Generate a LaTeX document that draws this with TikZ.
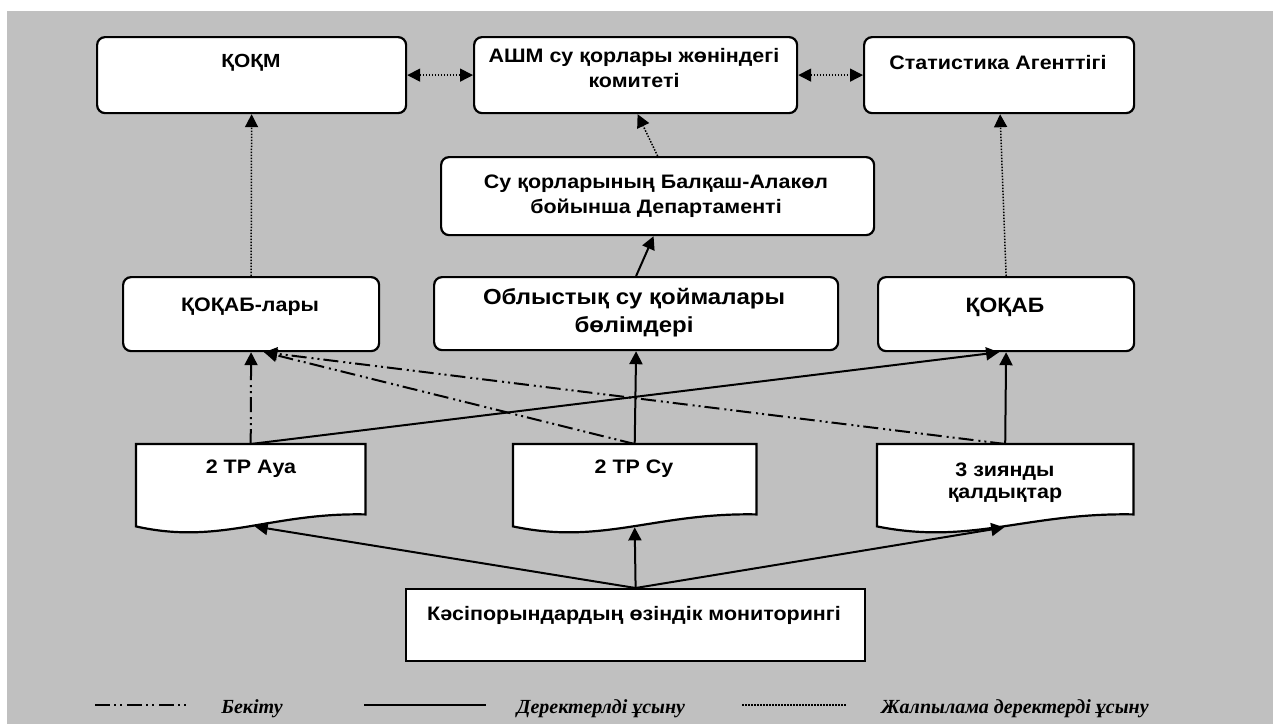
\documentclass[tikz,border=0pt]{standalone}
\usepackage{fontspec}
\setmainfont{Liberation Sans}[FakeStretch=1.1]
\newfontfamily\legfont{Liberation Serif}
\usetikzlibrary{arrows.meta,calc}
\definecolor{bggray}{HTML}{C0C0C0}
\tikzset{
  box/.style={draw, line width=2.2pt, fill=white, anchor=north west, inner sep=0pt},
  rbox/.style={box, rounded corners=8pt},
  ghost/.style={anchor=north west, inner sep=0pt},
  lbl/.style={font=\bfseries\fontsize{19.5}{25}\selectfont, align=center, inner sep=0pt, anchor=base},
  leg/.style={font=\legfont\bfseries\itshape\fontsize{20}{24}\selectfont, inner sep=0pt, anchor=base},
  tip/.style={-{Triangle[length=13pt,width=13pt]}},
  dtip/.style={{Triangle[length=13pt,width=13pt]}-{Triangle[length=13pt,width=13pt]}},
  solidc/.style={line width=2pt},
  dotc/.style={line width=1.5pt, dash pattern=on 1.5pt off 1.5pt},
  dashdotc/.style={line width=2pt, dash pattern=on 15pt off 4pt on 2pt off 4pt on 2pt off 5pt},
  docline/.style={draw, line width=2.2pt, fill=white}
}
\begin{document}
\begin{tikzpicture}[x=1pt,y=-1pt]
\useasboundingbox (0,0) rectangle (1273,724);
\fill[white] (0,0) rectangle (1273,724);
\fill[bggray] (7,11) rectangle (1273,724);

% top row
\node[rbox, minimum width=309pt, minimum height=76pt] (qokm) at (96,36) {};
\node[rbox, minimum width=323pt, minimum height=76pt] (ashm) at (473,36) {};
\node[rbox, minimum width=270pt, minimum height=76pt] (stat) at (863,36) {};
\node[lbl, font=\bfseries\fontsize{19}{25}\selectfont] (qokmT) at (251,67) {ҚОҚМ};
\node[lbl] (ashmT) at (634,87) {АШМ су қорлары жөніндегі\\комитеті};
\node[lbl] (statT) at (998,69) {Статистика Агенттігі};

% department
\node[rbox, minimum width=433pt, minimum height=78pt] (dept) at (440,156) {};
\node[lbl] (deptT) at (656,213) {Су қорларының Балқаш-Алакөл\\бойынша Департаменті};

% middle row
\node[rbox, minimum width=256pt, minimum height=74pt] (qokabl) at (122,276) {};
\node[rbox, minimum width=404pt, minimum height=73pt] (obl) at (433,276) {};
\node[rbox, minimum width=256pt, minimum height=74pt] (qokab) at (877,276) {};
\node[lbl] (qokablT) at (250,311) {ҚОҚАБ-лары};
\node[lbl, font=\bfseries\fontsize{21.8}{28}\selectfont] (oblT) at (634,332) {Облыстық су қоймалары\\бөлімдері};
\node[lbl, font=\bfseries\fontsize{20.8}{25}\selectfont] (qokabT) at (1005,312) {ҚОҚАБ};

% documents
\node[ghost, minimum width=229pt, minimum height=70pt] (aua) at (136,444) {};
\node[ghost, minimum width=243pt, minimum height=70pt] (su) at (513,444) {};
\node[ghost, minimum width=256pt, minimum height=70pt] (zh) at (877,444) {};
\foreach \n in {aua,su,zh}
  \draw[docline] (\n.north west) -- (\n.north east) -- (\n.south east)
    .. controls ($(\n.south west)!0.585!(\n.south east)+(0,-2)$)
       and ($(\n.south west)!0.367!(\n.south east)+(0,31)$)
    .. ($(\n.south west)+(0,12)$) -- cycle;
\node[lbl] (auaT) at (251,473) {2 TP Aуа};
\node[lbl] (suT) at (634,473) {2 TP Су};
\node[lbl, font=\bfseries\fontsize{19.5}{22}\selectfont] (zhT) at (1005,498) {3 зиянды\\қалдықтар};

% enterprise
\node[box, minimum width=459pt, minimum height=72pt] (ent) at (405,588) {};
\node[lbl] (entT) at (634,620) {Кәсіпорындардың өзіндік мониторингі};

% connectors
\draw[dotc, dtip] (qokm.east) -- (ashm.west);
\draw[dotc, dtip] (ashm.east) -- (stat.west);
\draw[dotc, tip] (qokabl.north) -- (qokm.south);
\draw[dotc, tip] (qokab.north) -- ($(stat.south)+(1,0)$);
\draw[dotc, tip] (dept.north) -- ($(ashm.south)+(2,0)$);
\draw[solidc, tip] (obl.north) -- ($(dept.south)+(-4,0)$);

\draw[solidc, tip] (su.north) -- (obl.south);
\draw[solidc, tip] (zh.north) -- (qokab.south);
\draw[solidc, tip] (aua.north) -- ($(qokab.south)+(-7,0)$);
\draw[dashdotc, tip] (aua.north) -- (qokabl.south);
\draw[dashdotc, tip] (su.north) -- ($(qokabl.south)+(13,0)$);
\draw[dashdotc, tip] (zh.north) -- ($(qokabl.south)+(13,0)$);

\draw[solidc, tip] (ent.north) -- ($(aua.south)+(4,12)$);
\draw[solidc, tip] (ent.north) -- ($(su.south)+(0,13)$);
\draw[solidc, tip] (ent.north) -- ($(zh.south)+(-1,13)$);

% legend
\coordinate (l1a) at (95,705);
\coordinate (l1b) at (186,705);
\coordinate (l2a) at (364,705);
\coordinate (l2b) at (486,705);
\coordinate (l3a) at (742,705);
\coordinate (l3b) at (847,705);
\draw[dashdotc] (l1a) -- (l1b);
\draw[solidc] (l2a) -- (l2b);
\draw[dotc] (l3a) -- (l3b);
\node[leg] (leg1) at (252,713) {Бекіту};
\node[leg] (leg2) at (601,713) {Деректерлді ұсыну};
\node[leg] (leg3) at (1015,713) {Жалпылама деректерді ұсыну};
\end{tikzpicture}
\end{document}
